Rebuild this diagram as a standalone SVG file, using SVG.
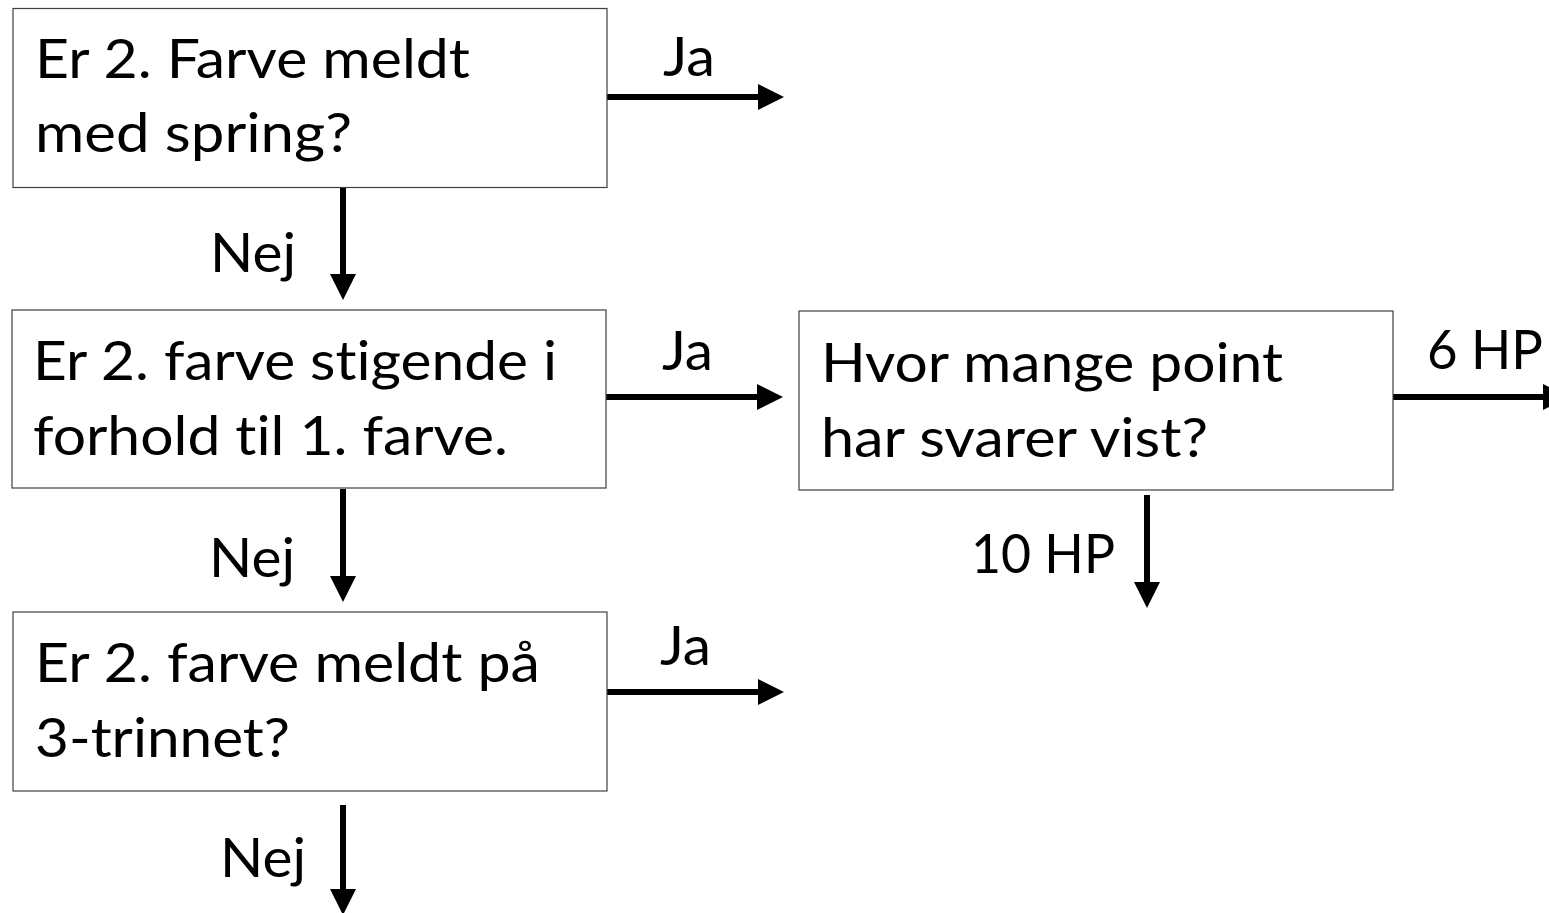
<svg xmlns="http://www.w3.org/2000/svg" width="1549" height="913" viewBox="0 0 1549 913">
<style>
  .box { fill: #ffffff; stroke: #404040; stroke-width: 1.2; }
  .t { font-family: Lato, "Open Sans", "Liberation Sans", sans-serif; font-size: 55px; fill: #000000; font-variant-ligatures: none; font-feature-settings: "liga" 0, "clig" 0; }
  .conn { stroke: #000000; stroke-width: 6; fill: none; }
  .head { fill: #000000; }
</style>
<defs>
  <marker id="arr" markerUnits="userSpaceOnUse" markerWidth="26" markerHeight="26" viewBox="0 0 24 24" refX="0" refY="12" orient="auto">
    <polygon class="head" points="0,0 24,12 0,24"/>
  </marker>
</defs>
<rect width="1549" height="913" fill="#ffffff"/>
<g id="connectors">
  <line class="conn" x1="607" y1="97" x2="758" y2="97" marker-end="url(#arr)"/>
  <line class="conn" x1="343" y1="188" x2="343" y2="274" marker-end="url(#arr)"/>
  <line class="conn" x1="606" y1="397" x2="757" y2="397" marker-end="url(#arr)"/>
  <line class="conn" x1="343" y1="489" x2="343" y2="576" marker-end="url(#arr)"/>
  <line class="conn" x1="607" y1="692" x2="758" y2="692" marker-end="url(#arr)"/>
  <line class="conn" x1="343" y1="805" x2="343" y2="889" marker-end="url(#arr)"/>
  <line class="conn" x1="1393" y1="397" x2="1543" y2="397" marker-end="url(#arr)"/>
  <line class="conn" x1="1147" y1="495" x2="1147" y2="582" marker-end="url(#arr)"/>
  <text class="t" x="663" y="76" textLength="52" lengthAdjust="spacingAndGlyphs">Ja</text>
  <text class="t" x="210" y="272" textLength="86" lengthAdjust="spacingAndGlyphs">Nej</text>
  <text class="t" x="662" y="370" textLength="51" lengthAdjust="spacingAndGlyphs">Ja</text>
  <text class="t" x="209" y="577" textLength="86" lengthAdjust="spacingAndGlyphs">Nej</text>
  <text class="t" x="660" y="665" textLength="51" lengthAdjust="spacingAndGlyphs">Ja</text>
  <text class="t" x="220" y="877" textLength="86" lengthAdjust="spacingAndGlyphs">Nej</text>
  <text class="t" x="1427" y="369" textLength="116" lengthAdjust="spacingAndGlyphs">6 HP</text>
  <text class="t" x="971" y="573" textLength="144" lengthAdjust="spacingAndGlyphs">10 HP</text>
</g>
<g id="node1">
  <rect class="box" x="13" y="8.5" width="594" height="179"/>
  <text class="t" x="35" y="78" textLength="435" lengthAdjust="spacingAndGlyphs">Er 2. Farve meldt</text>
  <text class="t" x="35" y="152" textLength="317" lengthAdjust="spacingAndGlyphs">med spring?</text>
</g>
<g id="node2">
  <rect class="box" x="12" y="310" width="594" height="178"/>
  <text class="t" x="33" y="380" textLength="524" lengthAdjust="spacingAndGlyphs">Er 2. farve stigende i</text>
  <text class="t" x="33" y="455" textLength="475" lengthAdjust="spacingAndGlyphs">forhold til 1. farve.</text>
</g>
<g id="node3">
  <rect class="box" x="13" y="612" width="594" height="179"/>
  <text class="t" x="35" y="682" textLength="505" lengthAdjust="spacingAndGlyphs">Er 2. farve meldt på</text>
  <text class="t" x="35" y="757" textLength="255" lengthAdjust="spacingAndGlyphs">3-trinnet?</text>
</g>
<g id="node4">
  <rect class="box" x="799" y="311" width="594" height="179"/>
  <text class="t" x="821" y="382" textLength="462" lengthAdjust="spacingAndGlyphs">Hvor mange point</text>
  <text class="t" x="821" y="457" textLength="387" lengthAdjust="spacingAndGlyphs">har svarer vist?</text>
</g>
</svg>
